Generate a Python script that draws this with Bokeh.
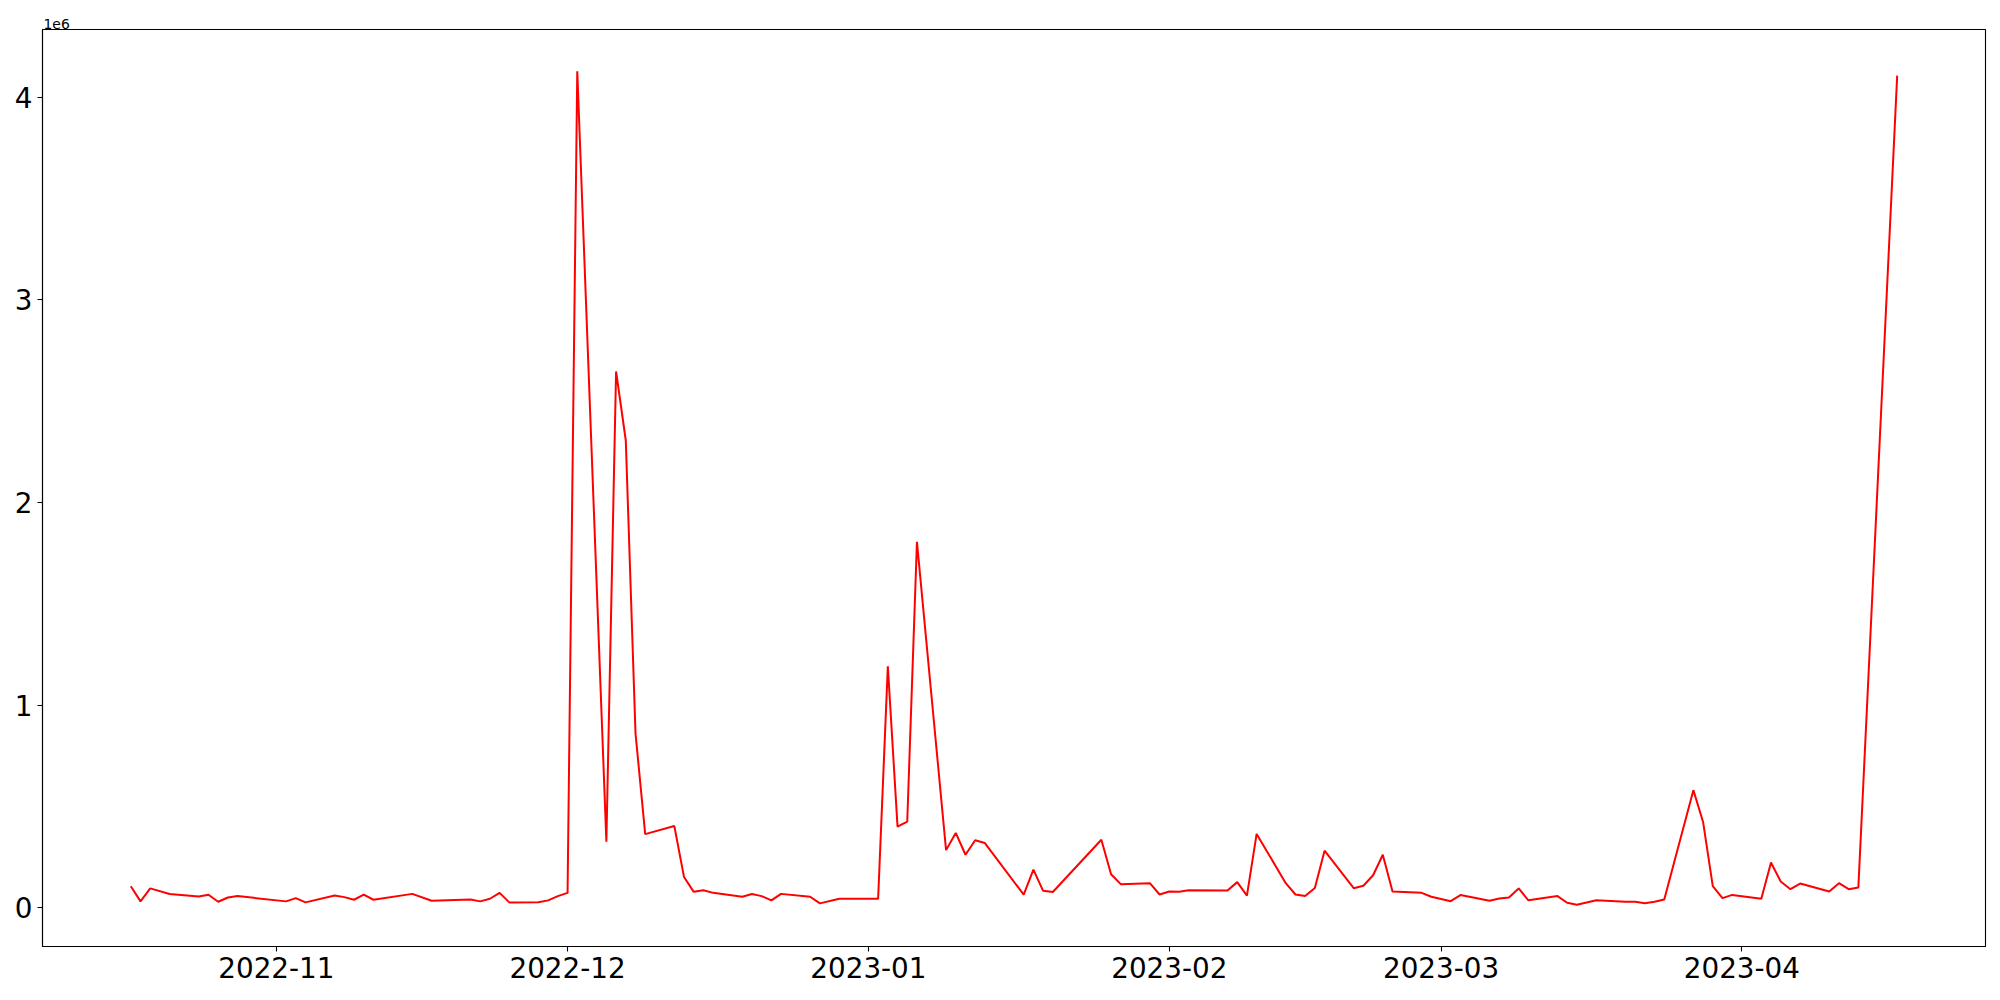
import pandas as pd
from bokeh.plotting import figure
from bokeh.models import (ColumnDataSource, Range1d, FixedTicker, MonthsTicker,
                          DatetimeTickFormatter)
from bokeh.embed import file_html
from bokeh.resources import INLINE

# ---- data ----
dates = [
    "2022-10-17", "2022-10-18", "2022-10-19", "2022-10-21", "2022-10-24", "2022-10-25",
    "2022-10-26", "2022-10-27", "2022-10-28", "2022-11-02", "2022-11-03", "2022-11-04",
    "2022-11-07", "2022-11-08", "2022-11-09", "2022-11-10", "2022-11-11", "2022-11-15",
    "2022-11-17", "2022-11-21", "2022-11-22", "2022-11-23", "2022-11-24", "2022-11-25",
    "2022-11-28", "2022-11-29", "2022-11-30", "2022-12-01", "2022-12-02", "2022-12-05",
    "2022-12-06", "2022-12-07", "2022-12-08", "2022-12-09", "2022-12-12", "2022-12-13",
    "2022-12-14", "2022-12-15", "2022-12-16", "2022-12-19", "2022-12-20", "2022-12-21",
    "2022-12-22", "2022-12-23", "2022-12-26", "2022-12-27", "2022-12-29", "2023-01-02",
    "2023-01-03", "2023-01-04", "2023-01-05", "2023-01-06", "2023-01-09", "2023-01-10",
    "2023-01-11", "2023-01-12", "2023-01-13", "2023-01-17", "2023-01-18", "2023-01-19",
    "2023-01-20", "2023-01-25", "2023-01-26", "2023-01-27", "2023-01-30", "2023-01-31",
    "2023-02-01", "2023-02-02", "2023-02-03", "2023-02-07", "2023-02-08", "2023-02-09",
    "2023-02-10", "2023-02-13", "2023-02-14", "2023-02-15", "2023-02-16", "2023-02-17",
    "2023-02-20", "2023-02-21", "2023-02-22", "2023-02-23", "2023-02-24", "2023-02-27",
    "2023-02-28", "2023-03-02", "2023-03-03", "2023-03-06", "2023-03-07", "2023-03-08",
    "2023-03-09", "2023-03-10", "2023-03-13", "2023-03-14", "2023-03-15", "2023-03-17",
    "2023-03-20", "2023-03-21", "2023-03-22", "2023-03-23", "2023-03-24", "2023-03-27",
    "2023-03-28", "2023-03-29", "2023-03-30", "2023-03-31", "2023-04-03", "2023-04-04",
    "2023-04-05", "2023-04-06", "2023-04-07", "2023-04-10", "2023-04-11", "2023-04-12",
    "2023-04-13", "2023-04-17",
]
values = [
    106000, 31000, 95000, 67000, 55000, 64000,
    29000, 50000, 57000, 31000, 47000, 26000,
    60000, 52000, 39000, 64000, 39000, 68000,
    34000, 40000, 31000, 44000, 73000, 26000,
    27000, 36000, 57000, 73000, 4129000, 326000,
    2647000, 2306000, 861000, 363000, 403000, 151000,
    78000, 86000, 73000, 54000, 67000, 57000,
    36000, 68000, 54000, 21000, 44000, 44000,
    1191000, 400000, 425000, 1806000, 284000, 369000,
    261000, 333000, 319000, 64000, 188000, 83000,
    77000, 335000, 165000, 116000, 121000, 65000,
    80000, 78000, 86000, 85000, 126000, 59000,
    364000, 121000, 65000, 57000, 97000, 281000,
    96000, 108000, 160000, 261000, 80000, 73000,
    54000, 32000, 62000, 34000, 45000, 50000,
    95000, 36000, 57000, 24000, 14000, 37000,
    29000, 29000, 22000, 29000, 40000, 580000,
    423000, 106000, 47000, 63000, 44000, 223000,
    129000, 91000, 119000, 80000, 121000, 91000,
    100000, 4107000,
]
y_ticks = [0, 1000000, 2000000, 3000000, 4000000]
y_tick_labels = ["0", "1", "2", "3", "4"]
x_tick_format = "%Y-%m"
offset_text = "1e6"

# ---- plot ----
x = pd.to_datetime(dates)
src = ColumnDataSource(dict(x=x, y=values))

x0, x1 = x.min(), x.max()
xpad = (x1 - x0) * 0.05
y0, y1 = min(values), max(values)
ypad = (y1 - y0) * 0.05

FONT = "DejaVu Sans"

p = figure(
    x_axis_type="datetime",
    frame_width=1943, frame_height=917,
    min_border_left=42, min_border_right=12, min_border_top=29, min_border_bottom=46,
    x_range=Range1d(x0 - xpad, x1 + xpad),
    y_range=Range1d(y0 - ypad, y1 + ypad),
    output_backend="svg", toolbar_location=None,
    background_fill_color="white", border_fill_color="white",
    title=offset_text,
)
p.line("x", "y", source=src, line_color="#ff0000", line_width=2)

p.title.align = "left"
p.title.offset = 1
p.title.standoff = 2
p.title.text_font = FONT
p.title.text_font_size = "13.9px"
p.title.text_font_style = "normal"
p.title.text_color = "black"

p.xgrid.visible = False
p.ygrid.visible = False
p.outline_line_color = "black"
p.outline_line_width = 1.1

for ax in (p.xaxis[0], p.yaxis[0]):
    ax.axis_line_color = "black"
    ax.axis_line_width = 1.1
    ax.major_tick_line_color = "black"
    ax.major_tick_line_width = 1.1
    ax.major_tick_out = 5
    ax.major_tick_in = 0
    ax.minor_tick_line_color = None
    ax.major_label_standoff = 5
    ax.major_label_text_font = FONT
    ax.major_label_text_font_size = "27.8px"
    ax.major_label_text_color = "black"

p.xaxis[0].ticker = MonthsTicker(months=list(range(1, 13)))
p.xaxis[0].formatter = DatetimeTickFormatter(
    years=x_tick_format, months=x_tick_format, days=x_tick_format,
    hours=x_tick_format, context=None,
)
p.yaxis[0].ticker = FixedTicker(ticks=y_ticks)
p.yaxis[0].major_label_overrides = {t: s for t, s in zip(y_ticks, y_tick_labels)}

open("out.html", "w").write(file_html(p, INLINE))
